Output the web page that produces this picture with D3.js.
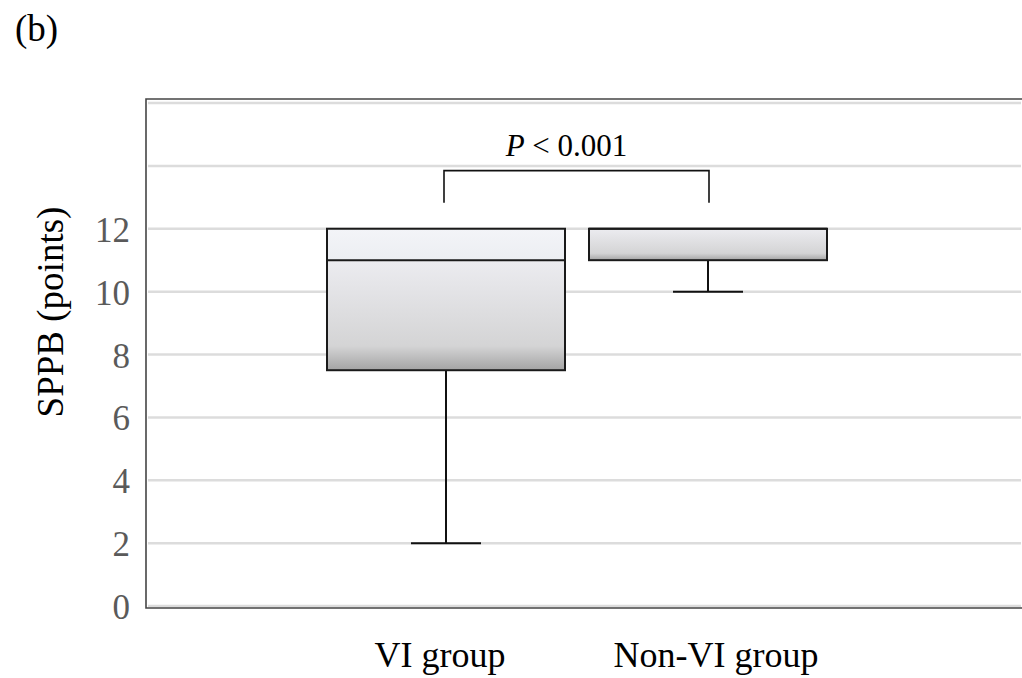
<!DOCTYPE html>
<html>
<head>
<meta charset="utf-8">
<script src="https://cdn.jsdelivr.net/npm/d3@7"></script>
<style>
  html, body { margin: 0; padding: 0; background: #fff; }
  svg { display: block; }
  text { font-family: "Liberation Serif", "Times New Roman", serif; }
</style>
</head>
<body>
<svg id="chart" width="1022" height="678"></svg>
<script>
// SPPB scores by group: five-number summaries
const categories = ["VI group", "Non-VI group"];
const whiskerLow = [2, 10];
const quartile1  = [7.5, 11];
const medians    = [11, 12];
const quartile3  = [12, 12];
const whiskerHigh = [12, 12];

const tickValues = [0, 2, 4, 6, 8, 10, 12];
const gridValues = [0, 2, 4, 6, 8, 10, 12, 14, 16];

const pLabel = "< 0.001";

const W = 1022, H = 678;
const frame = { left: 146, top: 99, right: 1040, bottom: 608 };

const svg = d3.select("#chart");

const y = d3.scaleLinear().domain([0, 16]).range([606, 103]);
const x = d3.scalePoint().domain(categories).range([446, 708]);
const boxW = 238, capW = 70;

// gradients for box sections
const defs = svg.append("defs");
const gLow = defs.append("linearGradient").attr("id", "gradLow")
  .attr("x1", 0).attr("y1", 0).attr("x2", 0).attr("y2", 1);
gLow.append("stop").attr("offset", "0%").attr("stop-color", "#ececf0");
gLow.append("stop").attr("offset", "78%").attr("stop-color", "#d4d4d5");
gLow.append("stop").attr("offset", "100%").attr("stop-color", "#a4a4a4");
const gHigh = defs.append("linearGradient").attr("id", "gradHigh")
  .attr("x1", 0).attr("y1", 0).attr("x2", 0).attr("y2", 1);
gHigh.append("stop").attr("offset", "0%").attr("stop-color", "#f3f4f8");
gHigh.append("stop").attr("offset", "100%").attr("stop-color", "#eceef2");

// gridlines
svg.append("g").selectAll("line").data(gridValues).join("line")
  .attr("x1", frame.left + 2).attr("x2", W - 1)
  .attr("y1", d => y(d)).attr("y2", d => y(d))
  .attr("stroke", "#dcdcdc").attr("stroke-width", 2.5);

// plot frame (top, left, bottom)
svg.append("path")
  .attr("d", `M${frame.right},${frame.top}H${frame.left}V${frame.bottom}H${frame.right}`)
  .attr("fill", "none").attr("stroke", "#454545").attr("stroke-width", 1.6);

// y tick labels
svg.append("g").selectAll("text").data(tickValues).join("text")
  .attr("x", 130).attr("y", d => y(d) + 13)
  .attr("text-anchor", "end")
  .attr("font-size", 35).attr("fill", "#5a5a5a")
  .text(d => d);

// y axis title
svg.append("text")
  .attr("transform", "translate(63,312) rotate(-90)")
  .attr("text-anchor", "middle")
  .attr("font-size", 37).attr("fill", "#000")
  .text("SPPB (points)");

// x category labels
svg.append("g").selectAll("text").data(categories).join("text")
  .attr("x", (d, i) => x(d) + (i === 0 ? -6 : 8)).attr("y", 667)
  .attr("text-anchor", "middle")
  .attr("font-size", 36).attr("fill", "#000")
  .text(d => d);

// panel label
svg.append("text").attr("x", 15).attr("y", 41)
  .attr("font-size", 37).attr("fill", "#000").text("(b)");

// boxes
const boxes = svg.append("g");
categories.forEach((c, i) => {
  const cx = x(c);
  const g = boxes.append("g");
  // whiskers
  g.append("line").attr("x1", cx).attr("x2", cx)
    .attr("y1", y(quartile1[i])).attr("y2", y(whiskerLow[i]))
    .attr("stroke", "#111").attr("stroke-width", 2);
  g.append("line").attr("x1", cx - capW / 2).attr("x2", cx + capW / 2)
    .attr("y1", y(whiskerLow[i])).attr("y2", y(whiskerLow[i]))
    .attr("stroke", "#111").attr("stroke-width", 2);
  if (whiskerHigh[i] > quartile3[i]) {
    g.append("line").attr("x1", cx).attr("x2", cx)
      .attr("y1", y(quartile3[i])).attr("y2", y(whiskerHigh[i]))
      .attr("stroke", "#111").attr("stroke-width", 2);
    g.append("line").attr("x1", cx - capW / 2).attr("x2", cx + capW / 2)
      .attr("y1", y(whiskerHigh[i])).attr("y2", y(whiskerHigh[i]))
      .attr("stroke", "#111").attr("stroke-width", 2);
  }
  // lower section: Q1 to median
  g.append("rect")
    .attr("x", cx - boxW / 2).attr("width", boxW)
    .attr("y", y(medians[i])).attr("height", y(quartile1[i]) - y(medians[i]))
    .attr("fill", "url(#gradLow)");
  // upper section: median to Q3
  if (quartile3[i] > medians[i]) {
    g.append("rect")
      .attr("x", cx - boxW / 2).attr("width", boxW)
      .attr("y", y(quartile3[i])).attr("height", y(medians[i]) - y(quartile3[i]))
      .attr("fill", "url(#gradHigh)");
  }
  // outline and median
  g.append("rect")
    .attr("x", cx - boxW / 2).attr("width", boxW)
    .attr("y", y(quartile3[i])).attr("height", y(quartile1[i]) - y(quartile3[i]))
    .attr("fill", "none").attr("stroke", "#1a1a1a").attr("stroke-width", 2);
  g.append("line").attr("x1", cx - boxW / 2).attr("x2", cx + boxW / 2)
    .attr("y1", y(medians[i])).attr("y2", y(medians[i]))
    .attr("stroke", "#1a1a1a").attr("stroke-width", 2);
});

// significance bracket
const bTop = y(13.85), bBottom = y(12.83);
const bx1 = x(categories[0]) - 2, bx2 = x(categories[1]) + 1;
svg.append("path")
  .attr("d", `M${bx1},${bBottom}V${bTop}H${bx2}V${bBottom}`)
  .attr("fill", "none").attr("stroke", "#111").attr("stroke-width", 1.6);

const pText = svg.append("text")
  .attr("x", (bx1 + bx2) / 2 - 10).attr("y", 156)
  .attr("text-anchor", "middle")
  .attr("font-size", 31).attr("fill", "#000");
pText.append("tspan").attr("font-style", "italic").text("P");
pText.append("tspan").text(" " + pLabel);
</script>
</body>
</html>
